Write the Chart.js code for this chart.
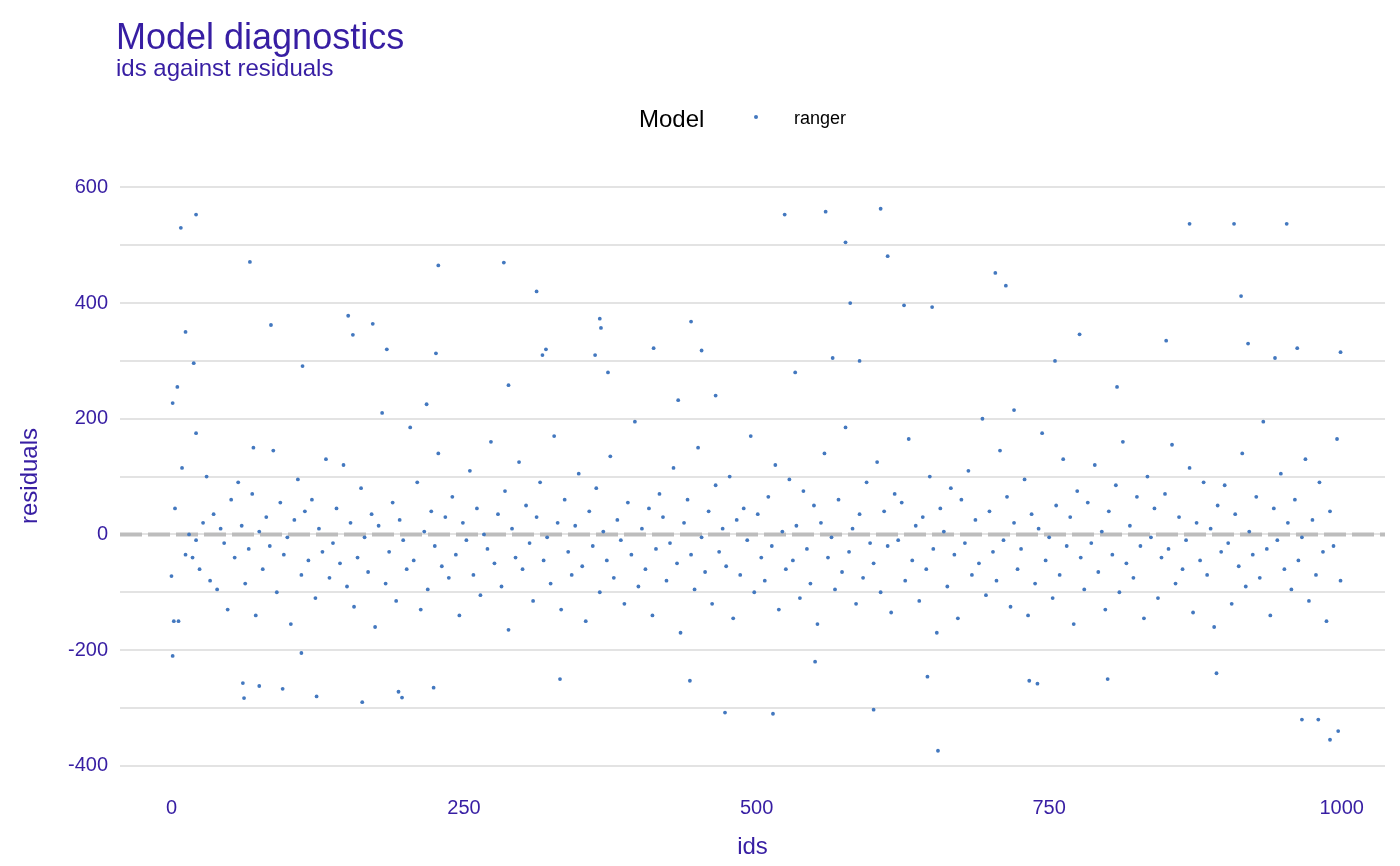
<!DOCTYPE html>
<html><head><meta charset="utf-8">
<script src="https://cdn.jsdelivr.net/npm/chart.js@4/dist/chart.umd.min.js"></script>
<style>html,body{margin:0;padding:0;background:#fff}#c{display:block}</style>
</head><body>
<canvas id="c" width="1400" height="866"></canvas>
<script>
const bulkResiduals = [
-72,45,-150,115,-35,0,-40,-10,-60,20,100,-80,35,-95,10,-15,-130,60,-40,90,
15,-85,-25,70,-140,5,-60,30,-20,145,-100,55,-35,-5,-155,25,95,-70,40,-45,
60,-110,10,-30,130,-75,-15,45,-50,120,-90,20,-125,-40,80,-5,-65,35,-160,15,
210,-85,-30,55,-115,25,-10,-60,185,-45,90,-130,5,-95,40,-20,140,-55,30,-75,
65,-35,-140,20,-10,110,-70,45,-105,0,-25,160,-50,35,-90,75,-165,10,-40,125,
-60,50,-15,-115,30,90,-45,-5,-85,170,20,-130,60,-30,-70,15,105,-55,-150,40,
-20,80,-100,5,-45,135,-75,25,-10,-120,55,-35,195,-90,10,-60,45,-140,-25,70,
30,-80,-15,115,-50,-170,20,60,-35,-95,150,-5,-65,40,-120,85,-30,10,-55,100,
-145,25,-70,45,-10,170,-100,35,-40,-80,65,-20,120,-130,5,-60,95,-45,15,-110,
75,-25,-85,50,-155,20,140,-40,-5,-95,60,-65,185,-30,10,-120,35,-75,90,-15,
-50,125,-100,40,-20,-135,70,-10,55,-80,165,-45,15,-115,30,-60,100,-25,-170,45,
5,-90,80,-35,-145,60,-15,110,-70,25,-50,200,-105,40,-30,-80,145,-10,65,-125,
20,-60,-25,95,-140,35,-85,10,175,-45,-5,-110,50,-70,130,-20,30,-155,75,-40,
-95,55,-15,120,-65,5,-130,40,-35,85,-100,160,-50,15,-75,65,-20,-145,100,-5,
45,-110,-40,70,-25,155,-85,30,-60,-10,115,-135,20,-45,90,-70,10,-160,50,-30,
85,-15,-120,35,-55,140,-90,5,-35,65,-75,195,-25,-140,45,-10,105,-60,20,-95,
60,-45,-5,130,-115,25,-70,90,-30,-150,40,-20,165,-80,10,-55,75,-125,35,-65
];
const outlierIds  = [1,1,2,5,8,12,19,21,21,61,62,67,70,75,85,95,111,112,124,151,155,163,172,184,194,197,218,224,226,228,284,288,312,317,320,332,362,366,367,373,412,433,443,444,453,465,473,514,524,533,550,559,565,576,580,588,600,606,612,626,646,655,650,704,713,720,733,740,755,776,800,808,850,870,893,908,914,920,943,953,962,966,980,990,997,999];
const outlierVals = [227,-210,-150,255,530,350,296,553,175,-257,-283,471,150,-262,362,-267,-205,291,-280,378,345,-290,364,320,-272,-282,225,-265,313,465,470,258,420,310,320,-250,310,373,357,280,322,232,-253,368,318,240,-308,-310,553,280,-220,558,305,505,400,300,-303,563,481,396,-246,-374,393,452,430,215,-253,-258,300,346,-250,255,335,537,-240,537,412,330,305,537,322,-320,-320,-355,-340,315];
const xTicks = [0,250,500,750,1000];
const yTicks = [-400,-300,-200,-100,0,100,200,300,400,500,600];

const pts = bulkResiduals.map((v,i)=>({x:i*3,y:v})).filter(p=>p.x<=999);
outlierIds.forEach((id,i)=>pts.push({x:id,y:outlierVals[i]}));
const purple = '#371ea3';
const FF = '"Liberation Sans", Arial, sans-serif';

const textPlugin = {
  id:'txt',
  afterDraw(ch){
    const c=ch.ctx; c.save();
    c.fillStyle=purple; c.textBaseline='alphabetic'; c.textAlign='left';
    c.font='36px '+FF;
    c.fillText('Model diagnostics',116,49);
    c.font='24px '+FF;
    c.fillText('ids against residuals',116,76);
    c.fillStyle='#000';
    c.font='24px '+FF;
    c.fillText('Model',639,127);
    c.font='18px '+FF;
    c.fillText('ranger',794,124);
    c.fillStyle='#4378bf'; c.beginPath(); c.arc(756,117,2,0,Math.PI*2); c.fill();
    c.restore();
  }
};

new Chart(document.getElementById('c'),{
  type:'scatter',
  data:{datasets:[
    {type:'line',data:[{x:-44,y:0},{x:1037,y:0}],borderColor:'#bdbdbd',borderWidth:4,borderDash:[22,6],pointRadius:0,order:2},
    {data:pts,backgroundColor:'#4378bf',borderWidth:0,pointRadius:1.9,order:1}
  ]},
  plugins:[textPlugin],
  options:{
    responsive:false,animation:false,
    layout:{padding:{top:170,right:15,left:12,bottom:0}},
    plugins:{legend:{display:false},tooltip:{enabled:false}},
    scales:{
      x:{type:'linear',min:-44,max:1037,
        afterBuildTicks(s){s.ticks=xTicks.map(v=>({value:v}));},
        afterFit(s){s.height=84;},
        grid:{display:false},border:{display:false},
        ticks:{color:purple,font:{size:20,family:FF},padding:6,callback:v=>String(v)},
        title:{display:true,text:'ids',color:purple,font:{size:24,family:FF},padding:{top:0}}
      },
      y:{type:'linear',min:-428,max:630,
        afterBuildTicks(s){s.ticks=yTicks.map(v=>({value:v}));},
        afterFit(s){s.width=108;},
        grid:{color:'#e3e3e3',lineWidth:2,drawTicks:false},border:{display:false},
        ticks:{color:purple,padding:12,font:{size:20,family:FF},
          callback:v=>(v%200===0?String(v):'')},
        title:{display:true,text:'residuals',color:purple,font:{size:24,family:FF},padding:{bottom:6}}
      }
    }
  }
});
</script>
</body></html>
